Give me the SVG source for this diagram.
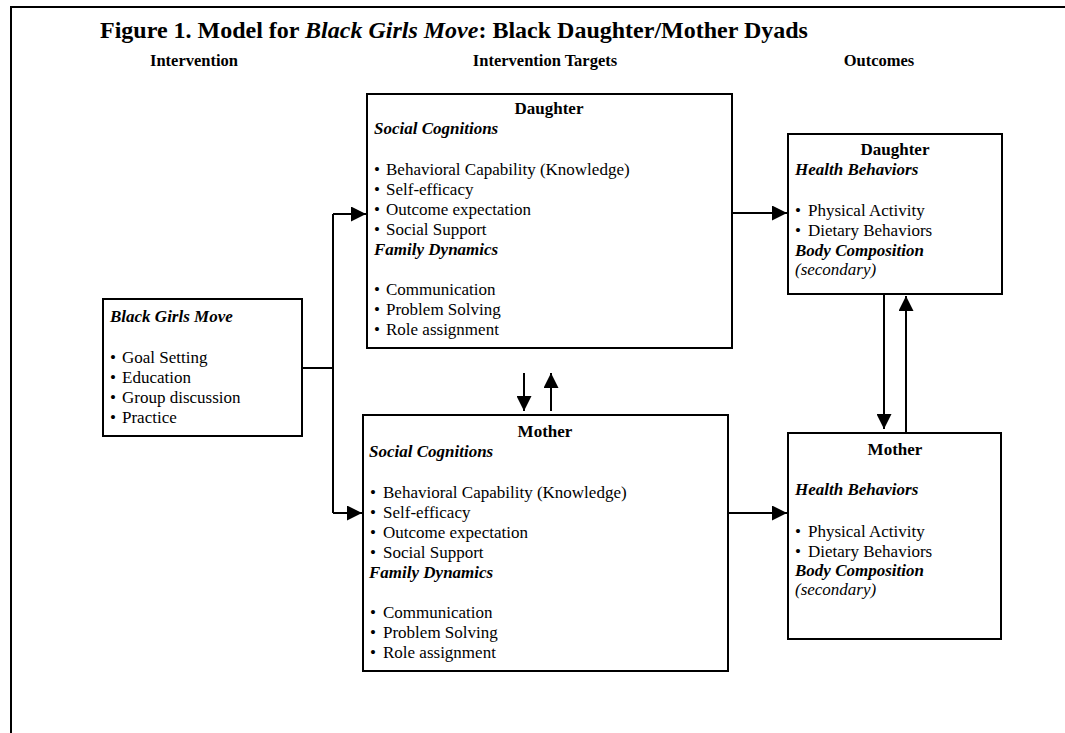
<svg xmlns="http://www.w3.org/2000/svg" width="1065" height="733" viewBox="0 0 1065 733">
<style>
text{font-family:"Liberation Serif","Times New Roman",serif;fill:#000}
.t{font-size:17px}
.h{font-size:17px;font-weight:bold;font-style:italic}
.b{font-size:17px;font-weight:bold}
.col{font-size:16.5px;font-weight:bold}
.box{fill:#fff;stroke:#000;stroke-width:2}
.ln{fill:none;stroke:#000;stroke-width:2}
</style>
<defs>
<marker id="ah" viewBox="0 0 15 15" refX="15" refY="7.5" markerWidth="15" markerHeight="15" markerUnits="userSpaceOnUse" orient="auto">
<path d="M0,0 L15,7.5 L0,15 Z" fill="#000"/>
</marker>
</defs>
<rect width="1065" height="733" fill="#fff"/>
<path class="ln" d="M11,733 V7 H1065"/>
<text x="100" y="38" style="font-size:24px;font-weight:bold">Figure 1. Model for <tspan font-style="italic">Black Girls Move</tspan>: Black Daughter/Mother Dyads</text>
<text class="col" x="194" y="66" text-anchor="middle">Intervention</text>
<text class="col" x="545" y="66" text-anchor="middle">Intervention Targets</text>
<text class="col" x="879" y="66" text-anchor="middle">Outcomes</text>

<g id="connectors">
<path class="ln" d="M302,368 H333"/>
<path class="ln" d="M333,214 V513"/>
<path class="ln" d="M333,214 H366" marker-end="url(#ah)"/>
<path class="ln" d="M333,513 H362" marker-end="url(#ah)"/>
<path class="ln" d="M732,213 H787" marker-end="url(#ah)"/>
<path class="ln" d="M728,513 H787" marker-end="url(#ah)"/>
<path class="ln" d="M524,373 V411" marker-end="url(#ah)"/>
<path class="ln" d="M551,411 V373" marker-end="url(#ah)"/>
<path class="ln" d="M884,294 V429" marker-end="url(#ah)"/>
<path class="ln" d="M906,433 V296" marker-end="url(#ah)"/>
</g>

<g id="intervention">
<rect class="box" x="103" y="299" width="199" height="137"/>
<text class="h" x="110" y="322">Black Girls Move</text>
<text class="t" x="110" y="363">•<tspan x="122">Goal Setting</tspan></text>
<text class="t" x="110" y="383">•<tspan x="122">Education</tspan></text>
<text class="t" x="110" y="403">•<tspan x="122">Group discussion</tspan></text>
<text class="t" x="110" y="423">•<tspan x="122">Practice</tspan></text>
</g>

<g id="daughter-targets">
<rect class="box" x="367" y="94" width="365" height="254"/>
<text class="b" x="549" y="114" text-anchor="middle">Daughter</text>
<text class="h" x="374" y="134">Social Cognitions</text>
<text class="t" x="374" y="175">•<tspan x="386">Behavioral Capability (Knowledge)</tspan></text>
<text class="t" x="374" y="195">•<tspan x="386">Self-efficacy</tspan></text>
<text class="t" x="374" y="215">•<tspan x="386">Outcome expectation</tspan></text>
<text class="t" x="374" y="235">•<tspan x="386">Social Support</tspan></text>
<text class="h" x="374" y="255">Family Dynamics</text>
<text class="t" x="374" y="295">•<tspan x="386">Communication</tspan></text>
<text class="t" x="374" y="315">•<tspan x="386">Problem Solving</tspan></text>
<text class="t" x="374" y="335">•<tspan x="386">Role assignment</tspan></text>
</g>

<g id="mother-targets">
<rect class="box" x="363" y="415" width="365" height="256"/>
<text class="b" x="545" y="437" text-anchor="middle">Mother</text>
<text class="h" x="369" y="457">Social Cognitions</text>
<text class="t" x="370" y="498">•<tspan x="383">Behavioral Capability (Knowledge)</tspan></text>
<text class="t" x="370" y="518">•<tspan x="383">Self-efficacy</tspan></text>
<text class="t" x="370" y="538">•<tspan x="383">Outcome expectation</tspan></text>
<text class="t" x="370" y="558">•<tspan x="383">Social Support</tspan></text>
<text class="h" x="369" y="578">Family Dynamics</text>
<text class="t" x="370" y="618">•<tspan x="383">Communication</tspan></text>
<text class="t" x="370" y="638">•<tspan x="383">Problem Solving</tspan></text>
<text class="t" x="370" y="658">•<tspan x="383">Role assignment</tspan></text>
</g>

<g id="daughter-outcomes">
<rect class="box" x="788" y="134" width="214" height="160"/>
<text class="b" x="895" y="155" text-anchor="middle">Daughter</text>
<text class="h" x="795" y="175">Health Behaviors</text>
<text class="t" x="795" y="216">•<tspan x="808">Physical Activity</tspan></text>
<text class="t" x="795" y="236">•<tspan x="808">Dietary Behaviors</tspan></text>
<text class="h" x="795" y="256">Body Composition</text>
<text class="t" x="795" y="275" font-style="italic">(secondary)</text>
</g>

<g id="mother-outcomes">
<rect class="box" x="788" y="433" width="213" height="206"/>
<text class="b" x="895" y="455" text-anchor="middle">Mother</text>
<text class="h" x="795" y="495">Health Behaviors</text>
<text class="t" x="795" y="537">•<tspan x="808">Physical Activity</tspan></text>
<text class="t" x="795" y="557">•<tspan x="808">Dietary Behaviors</tspan></text>
<text class="h" x="795" y="576">Body Composition</text>
<text class="t" x="795" y="595" font-style="italic">(secondary)</text>
</g>
</svg>
